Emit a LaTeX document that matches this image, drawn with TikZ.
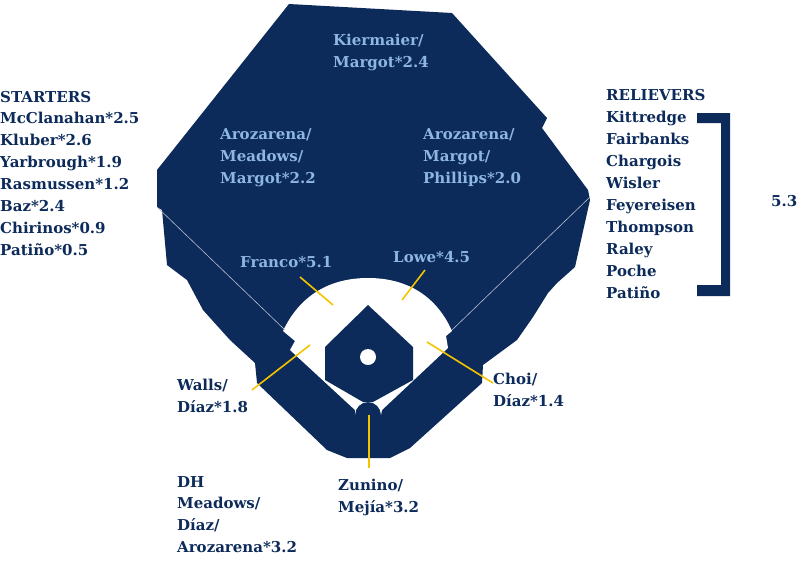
\documentclass[tikz,border=0pt]{standalone}
\usepackage{fontspec}
\setmainfont{DejaVu Serif}
\definecolor{navy}{HTML}{0C2A5A}
\definecolor{lblue}{HTML}{8DB6E0}
\definecolor{gold}{HTML}{F5C400}
\begin{document}
\begin{tikzpicture}[x=1pt,y=-1pt,
  lab/.style={inner sep=0pt,anchor=base west,align=left,font=\bfseries\fontsize{15}{21.9}\selectfont,text=navy},
  llab/.style={lab,text=lblue},
  ptr/.style={draw=gold,line width=1.6pt}]
\useasboundingbox (0,0) rectangle (803,560);
% field
\fill[navy] (289,4) -- (452,13) -- (547,118) -- (542,128) -- (588,190) -- (590,200) -- (575,267) -- (557,283) -- (548,293) -- (533,317) -- (517,340) -- (483,365) -- (482,383) -- (410,448) -- (390,458) -- (347,458) -- (327,450) -- (257,383) -- (255,363) -- (230,340) -- (203,310) -- (187,280) -- (167,265) -- (162,210) -- (157,207) -- (157,170) -- cycle;
% infield white
\fill[white] (283,331) .. controls (300,295) and (330,278) .. (368,278) .. controls (406,278) and (436,295) .. (452,331) -- (446,336) -- (448,348) -- (382,410) -- (381,415) arc[start angle=0,end angle=-180,radius=13] -- (355,410) -- (290,350) -- (295,341) -- cycle;
\fill[navy] (368,305) -- (413,347) -- (413,380) -- (373,402) -- (363,402) -- (325,380) -- (325,347) -- cycle;
\fill[white] (368,357) circle[radius=8];
% foul lines
\coordinate (fl1) at (157,207); \coordinate (fl2) at (285,330);
\coordinate (fr1) at (590,197); \coordinate (fr2) at (452,330);
\draw[white!70!navy,line width=0.6pt] (fl1) -- (fl2) (fr1) -- (fr2);
% labels (anchor = baseline of last line)
\node[lab] (st) at (0,255.3) {STARTERS\\McClanahan*2.5\\Kluber*2.6\\Yarbrough*1.9\\Rasmussen*1.2\\Baz*2.4\\Chirinos*0.9\\Patiño*0.5};
\node[lab,font=\bfseries\fontsize{15}{22}\selectfont] (rl) at (606,298) {RELIEVERS\\Kittredge\\Fairbanks\\Chargois\\Wisler\\Feyereisen\\Thompson\\Raley\\Poche\\Patiño};
\node[llab] (cf) at (333,67) {Kiermaier/\\Margot*2.4};
\node[llab] (lf) at (220,183) {Arozarena/\\Meadows/\\Margot*2.2};
\node[llab] (rf) at (423,183) {Arozarena/\\Margot/\\Phillips*2.0};
\node[llab] (ss) at (240,267) {Franco*5.1};
\node[llab] (2b) at (393,262) {Lowe*4.5};
\node[lab] (3b) at (177,412) {Walls/\\Díaz*1.8};
\node[lab] (1b) at (493,406) {Choi/\\Díaz*1.4};
\node[lab] (dh) at (177,552.7) {DH\\Meadows/\\Díaz/\\Arozarena*3.2};
\node[lab] (c) at (338,512) {Zunino/\\Mejía*3.2};
\node[lab] (r) at (771,206) {5.3};
% pointers
\coordinate (pss) at (333,305); \coordinate (p2b) at (402,300);
\coordinate (p3b) at (310,345); \coordinate (p1b) at (427,342);
\coordinate (pc) at (369,415);
\draw[ptr] (300,277) -- (pss);
\draw[ptr] (425,270) -- (p2b);
\draw[ptr] (252,390) -- (p3b);
\draw[ptr] (493,383) -- (p1b);
\draw[ptr] (369,468) -- (pc);
% bracket
\fill[navy] (697,113) -- (730,113) -- (730,296) -- (697,296) -- (697,285) -- (721,285) -- (721,123) -- (697,123) -- cycle;
\end{tikzpicture}
\end{document}
